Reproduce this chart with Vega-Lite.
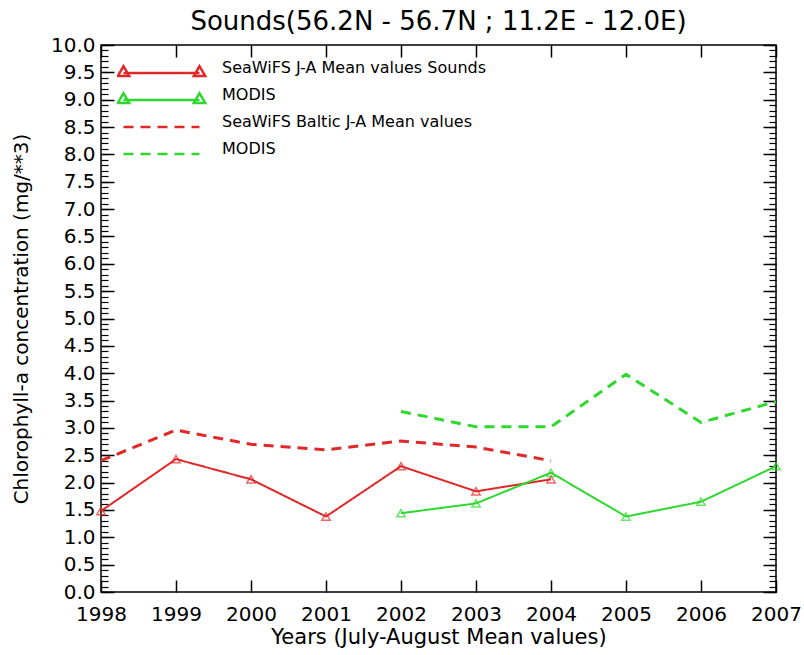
{
  "$schema": "https://vega.github.io/schema/vega-lite/v6.json",
  "width": 675,
  "height": 547,
  "autosize": {"type": "none"},
  "padding": {"left": 101, "top": 45, "right": 28, "bottom": 63},
  "background": "white",
  "config": {
    "font": "DejaVu Sans",
    "view": {"stroke": "black", "strokeWidth": 1.5},
    "axis": {"labelColor": "black", "titleColor": "black", "grid": false, "labelFontWeight": "normal", "titleFontWeight": "normal"}
  },
  "title": {"text": "Sounds(56.2N - 56.7N ; 11.2E - 12.0E)", "fontSize": 26, "fontWeight": "normal", "color": "black", "anchor": "middle", "offset": 0},
  "data": {
    "values": [
      {"year": 1998, "value": 1.48, "series": "sw_sounds"},
      {"year": 1999, "value": 2.43, "series": "sw_sounds"},
      {"year": 2000, "value": 2.06, "series": "sw_sounds"},
      {"year": 2001, "value": 1.38, "series": "sw_sounds"},
      {"year": 2002, "value": 2.3, "series": "sw_sounds"},
      {"year": 2003, "value": 1.84, "series": "sw_sounds"},
      {"year": 2004, "value": 2.06, "series": "sw_sounds"},
      {"year": 2002, "value": 1.44, "series": "modis_sounds"},
      {"year": 2003, "value": 1.62, "series": "modis_sounds"},
      {"year": 2004, "value": 2.18, "series": "modis_sounds"},
      {"year": 2005, "value": 1.38, "series": "modis_sounds"},
      {"year": 2006, "value": 1.65, "series": "modis_sounds"},
      {"year": 2007, "value": 2.3, "series": "modis_sounds"},
      {"year": 1998, "value": 2.4, "series": "sw_baltic"},
      {"year": 1999, "value": 2.96, "series": "sw_baltic"},
      {"year": 2000, "value": 2.7, "series": "sw_baltic"},
      {"year": 2001, "value": 2.6, "series": "sw_baltic"},
      {"year": 2002, "value": 2.76, "series": "sw_baltic"},
      {"year": 2003, "value": 2.65, "series": "sw_baltic"},
      {"year": 2004, "value": 2.4, "series": "sw_baltic"},
      {"year": 2002, "value": 3.3, "series": "modis_baltic"},
      {"year": 2003, "value": 3.02, "series": "modis_baltic"},
      {"year": 2004, "value": 3.02, "series": "modis_baltic"},
      {"year": 2005, "value": 3.98, "series": "modis_baltic"},
      {"year": 2006, "value": 3.1, "series": "modis_baltic"},
      {"year": 2007, "value": 3.48, "series": "modis_baltic"}
    ]
  },
  "layer": [
    {
      "transform": [{"filter": {"field": "series", "oneOf": ["sw_sounds", "modis_sounds"]}}],
      "mark": {"type": "line", "strokeWidth": 2},
      "encoding": {
        "x": {"field": "year", "type": "quantitative", "scale": {"domain": [1998, 2007], "nice": false, "zero": false},
              "axis": {"orient": "bottom", "domain": false, "ticks": true, "tickColor": "black", "tickWidth": 1.5, "values": [1998, 1999, 2000, 2001, 2002, 2003, 2004, 2005, 2006, 2007], "format": "d", "offset": -12, "tickSize": 12, "labelPadding": 12, "labelFontSize": 20, "labelFlush": false, "labelOverlap": false, "title": "Years (July-August Mean values)", "titleFontSize": 21, "titlePadding": 2}},
        "y": {"field": "value", "type": "quantitative", "scale": {"domain": [0, 10], "nice": false, "zero": true},
              "axis": {"orient": "left", "domain": false, "ticks": true, "tickColor": "black", "tickWidth": 1.5, "values": [0, 0.5, 1, 1.5, 2, 2.5, 3, 3.5, 4, 4.5, 5, 5.5, 6, 6.5, 7, 7.5, 8, 8.5, 9, 9.5, 10], "format": ".1f",
                       "offset": -13, "tickSize": 13, "labelPadding": 6,
                       "labelFontSize": 20, "labelOverlap": false, "labelFlush": false, "labelBaseline": "middle",
                       "title": "Chlorophyll-a concentration (mg/**3)", "titleFontSize": 20, "titlePadding": 19}},
        "color": {"field": "series", "type": "nominal",
                  "scale": {"domain": ["sw_sounds", "modis_sounds", "sw_baltic", "modis_baltic"], "range": ["#e02828", "#2ed82e", "#e02828", "#2ed82e"]},
                  "legend": {"title": null, "orient": "none", "legendX": 16, "legendY": 16, "padding": 0, "symbolSize": 5776, "symbolOffset": 5, "clipHeight": 24, "rowPadding": 2, "labelOffset": 21, "labelFontSize": 16, "labelColor": "black", "labelLimit": 500, "labelBaseline": "alphabetic", "symbolStrokeWidth": 2.5, "symbolFillColor": "white",
                             "labelExpr": "{'sw_sounds': 'SeaWiFS J-A Mean values Sounds', 'modis_sounds': 'MODIS', 'sw_baltic': 'SeaWiFS Baltic J-A Mean values', 'modis_baltic': 'MODIS'}[datum.value]",
                             "encode": {"symbols": {"update": {"shape": {"signal": "datum.value === 'sw_sounds' || datum.value === 'modis_sounds' ? 'M-1,0L1,0M-1,-0.18L-0.85,0.08L-1.15,0.08ZM1,-0.18L1.15,0.08L0.85,0.08Z' : 'M-1,0L1,0'"}}}}}},
        "strokeDash": {"field": "series", "type": "nominal",
                  "scale": {"domain": ["sw_sounds", "modis_sounds", "sw_baltic", "modis_baltic"], "range": [[1, 0], [1, 0], [10, 7], [10, 7]]},
                  "legend": {"title": null, "orient": "none", "legendX": 16, "legendY": 16, "padding": 0, "symbolSize": 5776, "symbolOffset": 5, "clipHeight": 24, "rowPadding": 2, "labelOffset": 21, "labelFontSize": 16, "labelColor": "black", "labelLimit": 500, "labelBaseline": "alphabetic", "symbolStrokeWidth": 2.5, "symbolFillColor": "white",
                             "labelExpr": "{'sw_sounds': 'SeaWiFS J-A Mean values Sounds', 'modis_sounds': 'MODIS', 'sw_baltic': 'SeaWiFS Baltic J-A Mean values', 'modis_baltic': 'MODIS'}[datum.value]",
                             "encode": {"symbols": {"update": {"shape": {"signal": "datum.value === 'sw_sounds' || datum.value === 'modis_sounds' ? 'M-1,0L1,0M-1,-0.18L-0.85,0.08L-1.15,0.08ZM1,-0.18L1.15,0.08L0.85,0.08Z' : 'M-1,0L1,0'"}}}}}}
      }
    },
    {
      "transform": [{"filter": {"field": "series", "equal": "sw_baltic"}}],
      "mark": {"type": "line", "strokeWidth": 3},
      "encoding": {
        "x": {"field": "year", "type": "quantitative",
              "axis": {"orient": "top", "domain": false, "ticks": true, "tickColor": "black", "tickWidth": 1.5, "values": [1998, 1999, 2000, 2001, 2002, 2003, 2004, 2005, 2006, 2007], "offset": -12, "tickSize": 12, "labels": false, "title": null}},
        "y": {"field": "value", "type": "quantitative",
              "axis": {"orient": "left", "domain": false, "ticks": true, "tickColor": "black", "tickWidth": 1.2, "tickCount": 100, "offset": -7, "tickSize": 7, "labels": false, "title": null}},
        "color": {"field": "series", "type": "nominal"},
        "strokeDash": {"field": "series", "type": "nominal"}
      }
    },
    {
      "transform": [{"filter": {"field": "series", "equal": "modis_baltic"}}],
      "mark": {"type": "line", "strokeWidth": 3},
      "encoding": {
        "x": {"field": "year", "type": "quantitative", "axis": null},
        "y": {"field": "value", "type": "quantitative",
              "axis": {"orient": "right", "domain": false, "ticks": true, "tickColor": "black", "tickWidth": 1.2, "tickCount": 100, "offset": -7, "tickSize": 7, "labels": false, "title": null}},
        "color": {"field": "series", "type": "nominal"},
        "strokeDash": {"field": "series", "type": "nominal"}
      }
    },
    {
      "transform": [{"filter": {"field": "series", "oneOf": ["sw_sounds", "modis_sounds"]}}],
      "mark": {"type": "point", "shape": "triangle-up", "filled": false, "size": 70, "strokeWidth": 1.5},
      "encoding": {
        "x": {"field": "year", "type": "quantitative", "axis": null},
        "y": {"field": "value", "type": "quantitative",
              "axis": {"orient": "right", "domain": false, "ticks": true, "tickColor": "black", "tickWidth": 1.5, "values": [0, 0.5, 1, 1.5, 2, 2.5, 3, 3.5, 4, 4.5, 5, 5.5, 6, 6.5, 7, 7.5, 8, 8.5, 9, 9.5, 10], "offset": -13, "tickSize": 13, "labels": false, "title": null}},
        "color": {"condition": {"test": "datum.series === 'sw_sounds'", "value": "#e02828"}, "value": "#2ed82e"}
      }
    }
  ],
  "resolve": {"axis": {"x": "independent", "y": "independent"}}
}
